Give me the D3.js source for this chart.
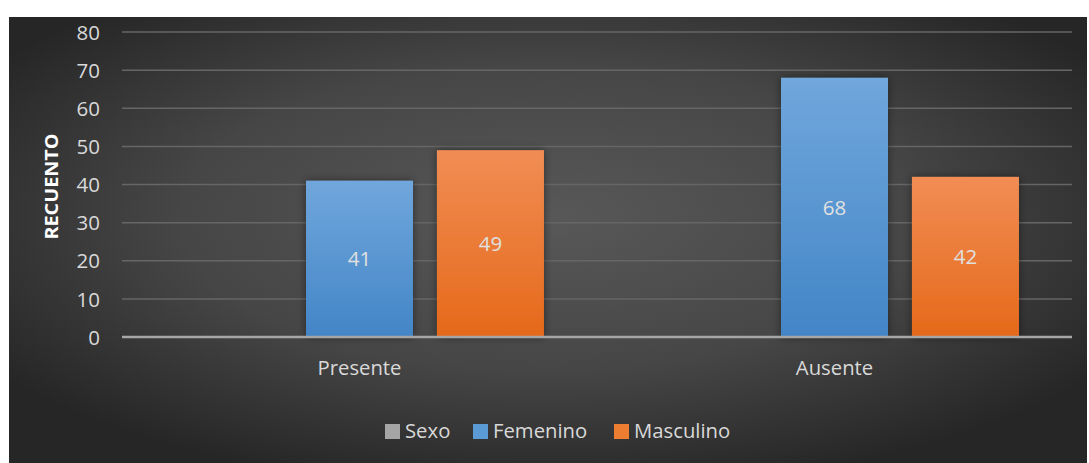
<!DOCTYPE html>
<html>
<head>
<meta charset="utf-8">
<script src="https://cdn.jsdelivr.net/npm/d3@7/dist/d3.min.js"></script>
<style>
  html, body { margin: 0; padding: 0; background: #ffffff; }
  svg { display: block; }
  text { font-family: "Open Sans", "Noto Sans", sans-serif; }
</style>
</head>
<body>
<svg id="chart" width="1089" height="463"></svg>
<script>
// Attendance counts grouped by sex
const categories = ["Presente", "Ausente"];
const seriesNames = ["Sexo", "Femenino", "Masculino"];
const sexo = [0, 0];
const femenino = [41, 68];
const masculino = [49, 42];
const yTicks = [0, 10, 20, 30, 40, 50, 60, 70, 80];
const yTitle = "RECUENTO";

const seriesValues = [sexo, femenino, masculino];
const seriesColors = {
  Sexo: { top: "#b5b5b5", bottom: "#9a9a9a", legend: "#a5a5a5" },
  Femenino: { top: "#70a7dc", bottom: "#4385c7", legend: "#5b9bd5" },
  Masculino: { top: "#f18d54", bottom: "#e5691a", legend: "#ed7d31" }
};

const svg = d3.select("#chart");
const panel = { x: 9, y: 17, w: 1078, h: 446 };
const plot = { left: 122, right: 1072, top: 32, bottom: 337 };

const defs = svg.append("defs");

// Panel background: soft radial glow, darker towards the edges
const bg = defs.append("radialGradient").attr("id", "bgGrad")
  .attr("cx", "50%").attr("cy", "45%").attr("r", "62%");
bg.append("stop").attr("offset", "0%").attr("stop-color", "#585858");
bg.append("stop").attr("offset", "55%").attr("stop-color", "#464646");
bg.append("stop").attr("offset", "100%").attr("stop-color", "#262626");

seriesNames.forEach((name, i) => {
  const g = defs.append("linearGradient").attr("id", "barGrad" + i)
    .attr("x1", 0).attr("y1", 0).attr("x2", 0).attr("y2", 1);
  g.append("stop").attr("offset", "0%").attr("stop-color", seriesColors[name].top);
  g.append("stop").attr("offset", "100%").attr("stop-color", seriesColors[name].bottom);
});

const shadow = defs.append("filter").attr("id", "barShadow")
  .attr("x", "-20%").attr("y", "-20%").attr("width", "140%").attr("height", "140%");
shadow.append("feDropShadow").attr("dx", 0).attr("dy", 0)
  .attr("stdDeviation", 4).attr("flood-color", "#000").attr("flood-opacity", 0.45);

svg.append("rect")
  .attr("x", panel.x).attr("y", panel.y)
  .attr("width", panel.w).attr("height", panel.h)
  .attr("fill", "url(#bgGrad)");

const x0 = d3.scaleBand().domain(categories)
  .range([plot.left, plot.right]).paddingInner(0).paddingOuter(0);
const x1 = d3.scaleBand().domain(seriesNames)
  .range([0, x0.bandwidth()]).paddingInner(0.1832).paddingOuter(0.405);
const y = d3.scaleLinear().domain([0, 80]).range([plot.bottom, plot.top]);

// Horizontal gridlines
svg.append("g")
  .selectAll("line")
  .data(yTicks.filter(t => t > 0))
  .join("line")
  .attr("x1", plot.left).attr("x2", plot.right)
  .attr("y1", d => y(d)).attr("y2", d => y(d))
  .attr("stroke", "#666666").attr("stroke-width", 1.5);

// Y axis tick labels
const yAxis = d3.axisLeft(y).tickValues(yTicks).tickSize(0).tickPadding(0);
const yg = svg.append("g").attr("transform", `translate(100,0)`).call(yAxis);
yg.select(".domain").remove();
yg.selectAll("text")
  .attr("fill", "#d9d9d9").attr("font-size", 20.5)
  .attr("dy", "0.35em")
  .attr("font-family", "'Open Sans', sans-serif");

// Y axis title
svg.append("text")
  .attr("transform", `translate(58,${(plot.top + plot.bottom) / 2 + 2}) rotate(-90)`)
  .attr("text-anchor", "middle")
  .attr("fill", "#ffffff").attr("font-size", 18.5).attr("font-weight", "bold")
  .attr("textLength", 106).attr("lengthAdjust", "spacingAndGlyphs")
  .text(yTitle);

// Bars
const groups = svg.append("g").selectAll("g")
  .data(categories)
  .join("g")
  .attr("transform", d => `translate(${x0(d)},0)`);

groups.each(function (cat, ci) {
  const data = seriesNames.map((name, si) => ({ name, si, value: seriesValues[si][ci] }))
    .filter(d => d.value > 0);
  const g = d3.select(this);
  g.selectAll("rect")
    .data(data)
    .join("rect")
    .attr("x", d => x1(d.name))
    .attr("y", d => y(d.value))
    .attr("width", x1.bandwidth())
    .attr("height", d => y(0) - y(d.value))
    .attr("fill", d => `url(#barGrad${d.si})`)
    .attr("filter", "url(#barShadow)");
  g.selectAll("text")
    .data(data)
    .join("text")
    .attr("x", d => x1(d.name) + x1.bandwidth() / 2)
    .attr("y", d => (y(d.value) + y(0)) / 2)
    .attr("dy", "0.35em")
    .attr("text-anchor", "middle")
    .attr("fill", "#e0e0e0").attr("font-size", 20.5)
    .text(d => d.value);
});

// Baseline
svg.append("line")
  .attr("x1", plot.left).attr("x2", plot.right)
  .attr("y1", y(0)).attr("y2", y(0))
  .attr("stroke", "#a6a6a6").attr("stroke-width", 2.5);

// Category labels
const xAxis = d3.axisBottom(x0).tickSize(0).tickPadding(0);
const xg = svg.append("g").attr("transform", `translate(0,${plot.bottom + 31})`).call(xAxis);
xg.select(".domain").remove();
xg.selectAll("text")
  .attr("fill", "#d9d9d9").attr("font-size", 20.3)
  .attr("dy", "0.35em")
  .attr("font-family", "'Open Sans', sans-serif");

// Legend
const legendItems = [
  { name: "Sexo", x: 385 },
  { name: "Femenino", x: 473 },
  { name: "Masculino", x: 614 }
];
const lg = svg.append("g").selectAll("g").data(legendItems).join("g")
  .attr("transform", d => `translate(${d.x},431)`);
lg.append("rect")
  .attr("x", 0).attr("y", -7).attr("width", 15).attr("height", 15)
  .attr("fill", d => seriesColors[d.name].legend);
lg.append("text")
  .attr("x", 20).attr("dy", "0.35em")
  .attr("fill", "#d9d9d9").attr("font-size", 20.3)
  .text(d => d.name);
</script>
</body>
</html>
